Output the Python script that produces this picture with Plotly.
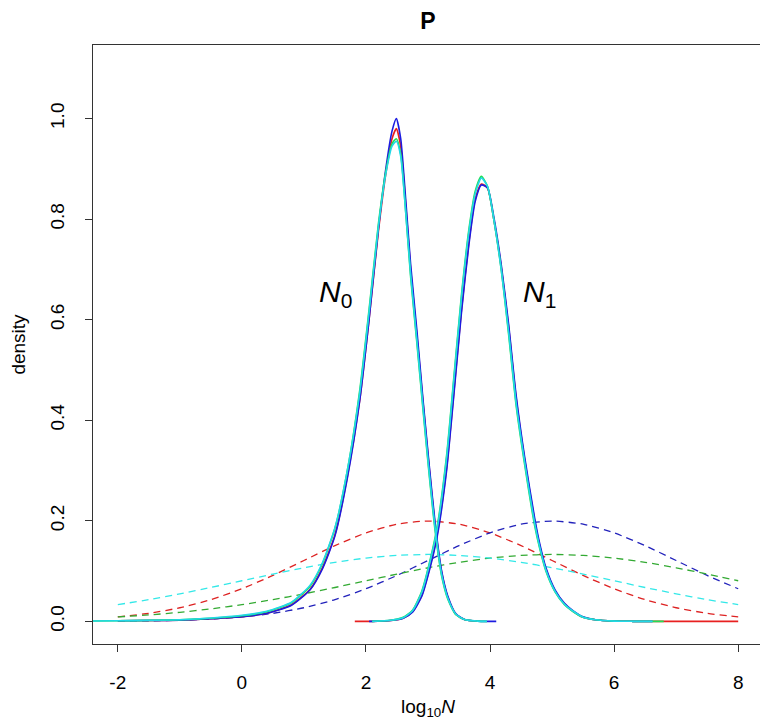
import plotly.graph_objects as go

# ---- prior (dashed) curves ----
prior_x = [-2.0, -1.5, -1.0, -0.5, 0.0, 0.5, 1.0, 1.5, 2.0, 2.5, 3.0,
           3.5, 4.0, 4.5, 5.0, 5.5, 6.0, 6.5, 7.0, 7.5, 8.0]
prior_red = [0.0088, 0.0159, 0.0270, 0.0431, 0.0648, 0.0913, 0.1210, 0.1506, 0.1760, 0.1933, 0.1995,
             0.1933, 0.1760, 0.1506, 0.1210, 0.0913, 0.0648, 0.0431, 0.0270, 0.0159, 0.0088]
prior_blue = [0.0004, 0.0010, 0.0022, 0.0045, 0.0088, 0.0159, 0.0270, 0.0431, 0.0648, 0.0913, 0.1210,
              0.1506, 0.1760, 0.1933, 0.1995, 0.1933, 0.1760, 0.1506, 0.1210, 0.0913, 0.0648]
prior_green = [0.0087, 0.0127, 0.0180, 0.0248, 0.0332, 0.0432, 0.0547, 0.0673, 0.0807, 0.0940, 0.1065,
               0.1174, 0.1258, 0.1311, 0.1330, 0.1311, 0.1258, 0.1174, 0.1065, 0.0940, 0.0807]
prior_cyan = [0.0332, 0.0432, 0.0547, 0.0673, 0.0807, 0.0940, 0.1065, 0.1174, 0.1258, 0.1311, 0.1330,
              0.1311, 0.1258, 0.1174, 0.1065, 0.0940, 0.0807, 0.0673, 0.0547, 0.0432, 0.0332]

# ---- posterior N0 (solid) ----
N0_x = [-2.5, -2.0, -1.5, -1.0, -0.5, 0.0, 0.4, 0.8, 1.1, 1.3, 1.5, 1.7, 1.9, 2.05, 2.2, 2.32,
        2.42, 2.49, 2.56, 2.64, 2.72, 2.82, 2.92, 3.02, 3.12, 3.22, 3.32, 3.45, 3.6, 3.8, 3.95, 4.1]
N0_blue = [None, 0.001, 0.0015, 0.002, 0.005, 0.009, 0.016, 0.032, 0.063, 0.105, 0.17, 0.285, 0.44, 0.60, 0.78, 0.90,
           0.975, 1.0, 0.96, 0.84, 0.71, 0.58, 0.44, 0.31, 0.19, 0.10, 0.05, 0.015, 0.003, 0.0005, 0.0, 0.0]
N0_red = [None, 0.001, 0.0015, 0.002, 0.005, 0.009, 0.016, 0.033, 0.064, 0.107, 0.172, 0.288, 0.44, 0.60, 0.775, 0.89,
          0.96, 0.98, 0.945, 0.83, 0.70, 0.57, 0.435, 0.305, 0.185, 0.098, 0.048, 0.014, 0.003, 0.0005, None, None]
N0_green = [0.0005, 0.001, 0.0018, 0.003, 0.006, 0.011, 0.019, 0.037, 0.07, 0.115, 0.185, 0.30, 0.46, 0.62, 0.79, 0.895,
            0.95, 0.96, 0.93, 0.815, 0.685, 0.555, 0.42, 0.29, 0.175, 0.09, 0.044, 0.013, 0.003, 0.0005, 0.0, None]
N0_cyan = [0.0005, 0.001, 0.002, 0.0032, 0.0065, 0.012, 0.02, 0.038, 0.072, 0.117, 0.186, 0.30, 0.455, 0.615, 0.785, 0.89,
           0.945, 0.955, 0.925, 0.815, 0.69, 0.56, 0.425, 0.295, 0.18, 0.093, 0.046, 0.014, 0.003, 0.0005, 0.0, None]

# ---- posterior N1 (solid) ----
N1_x = [1.82, 2.05, 2.1, 2.4, 2.6, 2.75, 2.9, 3.03, 3.15, 3.3, 3.42, 3.54, 3.66, 3.76, 3.86, 3.96, 4.06,
        4.18, 4.3, 4.42, 4.56, 4.72, 4.8, 4.9, 5.05, 5.2, 5.33, 5.5, 5.7, 6.0, 6.3, 6.62, 6.8, 8.0]
N1_green = [None, None, 0.0, 0.002, 0.008, 0.022, 0.06, 0.12, 0.19, 0.33, 0.49, 0.65, 0.78, 0.855, 0.885, 0.865, 0.80,
            0.70, 0.57, 0.43, 0.31, 0.19, 0.145, 0.10, 0.058, 0.033, 0.02, 0.008, 0.003, 0.0005, 0.0, 0.0, 0.0, None]
N1_cyan = [None, None, 0.0, 0.002, 0.007, 0.021, 0.058, 0.117, 0.186, 0.325, 0.485, 0.645, 0.775, 0.85, 0.882, 0.865, 0.80,
           0.70, 0.575, 0.435, 0.315, 0.195, 0.148, 0.102, 0.059, 0.034, 0.021, 0.008, 0.003, 0.0005, 0.0, 0.0, None, None]
N1_blue = [None, 0.0, 0.0, 0.0015, 0.006, 0.018, 0.05, 0.105, 0.17, 0.30, 0.455, 0.615, 0.75, 0.835, 0.868, 0.862, 0.805,
           0.71, 0.59, 0.45, 0.325, 0.205, 0.155, 0.107, 0.062, 0.036, 0.022, 0.009, 0.003, 0.0005, 0.0, 0.0, None, None]
N1_red = [0.0, 0.0, 0.0, 0.0015, 0.006, 0.019, 0.052, 0.108, 0.175, 0.305, 0.46, 0.62, 0.755, 0.84, 0.87, 0.862, 0.80,
          0.705, 0.585, 0.445, 0.32, 0.20, 0.151, 0.104, 0.06, 0.035, 0.021, 0.008, 0.003, 0.0005, 0.0, 0.0, 0.0, 0.0]

x_ticks = [-2, 0, 2, 4, 6, 8]
y_ticks = [0.0, 0.2, 0.4, 0.6, 0.8, 1.0]
y_tick_labels = ["0.0", "0.2", "0.4", "0.6", "0.8", "1.0"]

C_RED, C_BLUE, C_GREEN, C_CYAN = "#E82020", "#1C1CE0", "#22DD55", "#22D8E8"
D_RED, D_BLUE, D_GREEN, D_CYAN = "#DD2222", "#2222BB", "#33AA33", "#33E8E8"

fig = go.Figure()

def add(x, y, color, width, dash=None):
    line = dict(color=color, width=width, shape="spline", smoothing=0.6)
    if dash:
        line["dash"] = dash
    fig.add_trace(go.Scatter(x=x, y=y, mode="lines", line=line,
                             connectgaps=False, showlegend=False, hoverinfo="skip"))

for yv, c in [(prior_red, D_RED), (prior_blue, D_BLUE), (prior_green, D_GREEN), (prior_cyan, D_CYAN)]:
    add(prior_x, yv, c, 1.3, "7px,5px")

add(N1_x, N1_red, C_RED, 1.6)
add(N0_x, N0_red, C_RED, 1.6)
add(N0_x, N0_blue, C_BLUE, 1.6)
add(N1_x, N1_blue, C_BLUE, 1.6)
add(N0_x, N0_green, C_GREEN, 1.6)
add(N1_x, N1_green, C_GREEN, 1.6)
add(N0_x, N0_cyan, C_CYAN, 1.6)
add(N1_x, N1_cyan, C_CYAN, 1.6)

FONT = "Liberation Sans, Arial, Helvetica, sans-serif"

fig.add_annotation(x=1.51, y=0.653, text="<i>N</i><sub>0</sub>", showarrow=False,
                   font=dict(family=FONT, size=30, color="black"), xanchor="center", yanchor="middle")
fig.add_annotation(x=4.79, y=0.653, text="<i>N</i><sub>1</sub>", showarrow=False,
                   font=dict(family=FONT, size=30, color="black"), xanchor="center", yanchor="middle")

# the page body has an 8px margin, so the figure is drawn 8px smaller and offset
fig.update_layout(
    width=760, height=712,
    margin=dict(l=85, r=5, t=37, b=76),
    paper_bgcolor="white", plot_bgcolor="white",
    font=dict(family=FONT, size=19, color="black"),
    title=dict(text="<b>P</b>", x=0.5, xref="paper", xanchor="center",
               y=1 - 13 / 712, yref="container", yanchor="middle",
               font=dict(family=FONT, size=23, color="black")),
    showlegend=False,
)
fig.update_xaxes(range=[-2.4, 8.4], tickvals=x_ticks, ticktext=[str(v) for v in x_ticks],
                 ticks="outside", ticklen=7, tickcolor="#333", tickwidth=1,
                 showline=True, linecolor="#333", linewidth=1, mirror=True,
                 showgrid=False, zeroline=False, ticklabelstandoff=14, automargin=False,
                 title=dict(text="log<sub>10</sub><i>N</i>", standoff=9, font=dict(size=19)))
fig.update_yaxes(range=[-0.0451, 1.1464], tickvals=y_ticks, ticktext=y_tick_labels,
                 ticks="outside", ticklen=7, tickcolor="#333", tickwidth=1, tickangle=-90,
                 showline=True, linecolor="#333", linewidth=1, mirror=True,
                 showgrid=False, zeroline=False, ticklabelstandoff=13, automargin=False,
                 title=dict(text="density", standoff=25, font=dict(size=19)))

fig.write_html("out.html")
